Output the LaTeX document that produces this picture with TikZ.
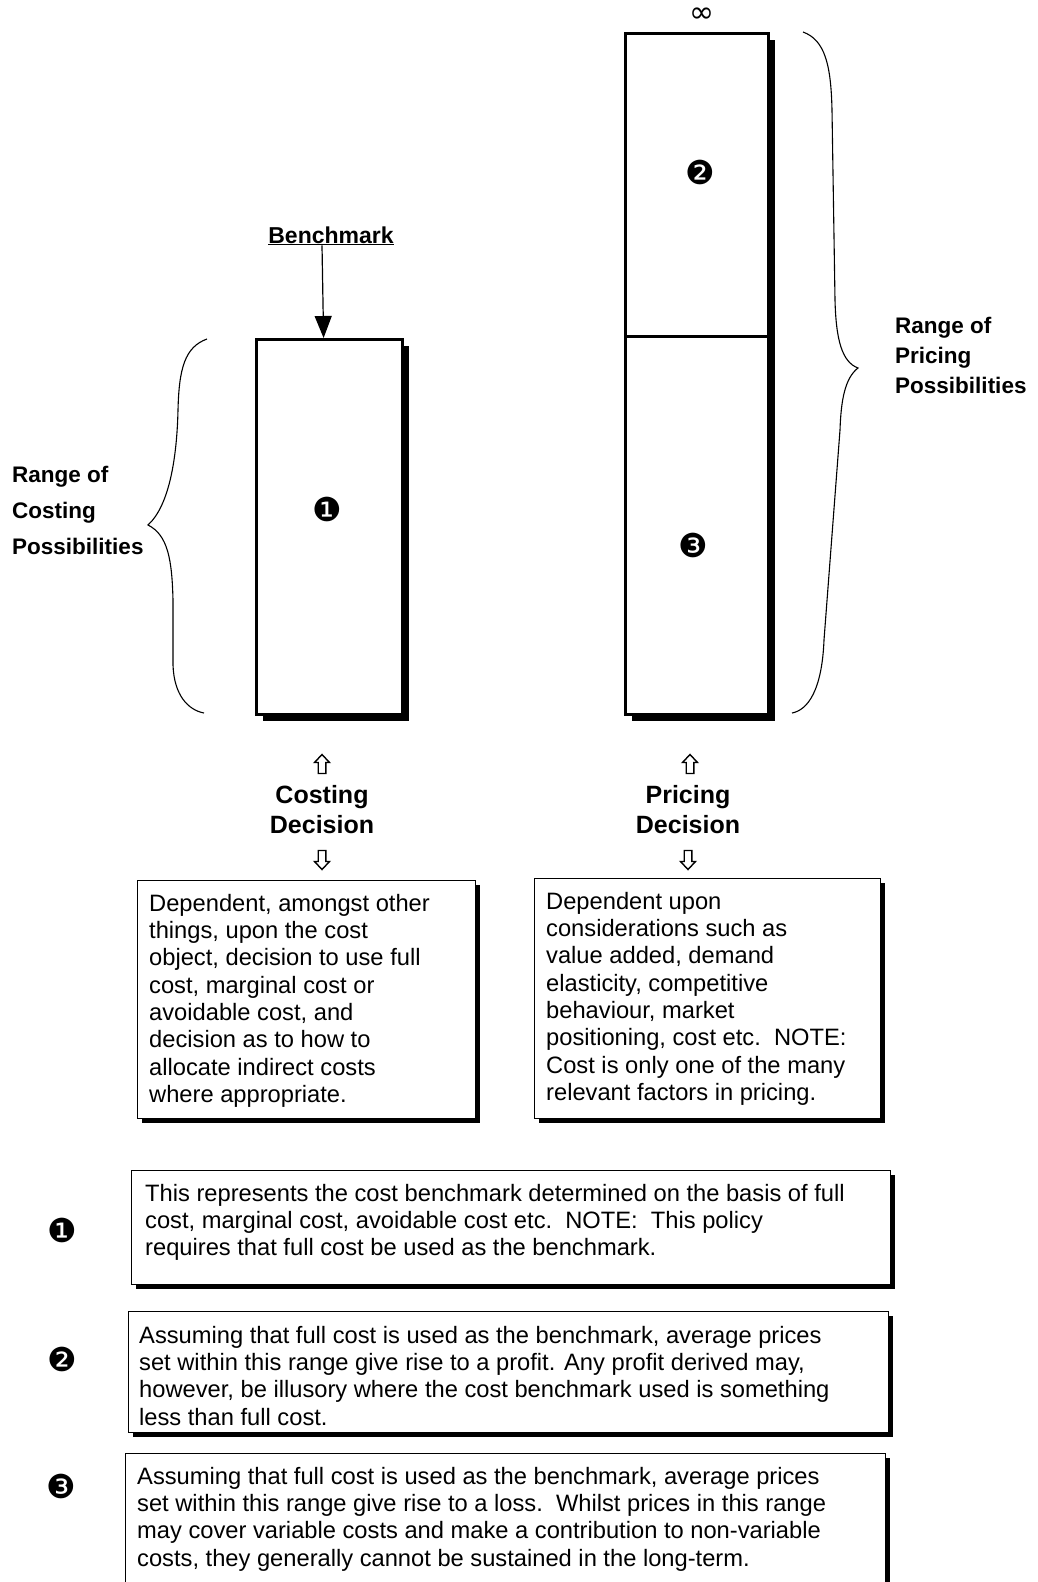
\documentclass[tikz,border=0pt]{standalone}
\usepackage{fontspec}
\setmainfont{Liberation Sans}
\newfontfamily\dejavu{DejaVu Sans}
\usetikzlibrary{shadows,arrows.meta,calc}
\tikzset{
  bar/.style={draw, line width=3.2pt, fill=white, inner sep=0pt,
    drop shadow={shadow xshift=6pt, shadow yshift=-6pt, fill=black, opacity=1}},
  tbox/.style={draw, line width=1.2pt, fill=white, inner sep=0pt, anchor=north west,
    drop shadow={shadow xshift=4pt, shadow yshift=-4pt, fill=black, opacity=1}},
  txt/.style={anchor=north west, inner sep=0pt, align=left,
    font=\fontsize{23.7}{27.3}\selectfont},
  rangelbl/.style={anchor=north west, inner sep=0pt, align=left},
  declbl/.style={anchor=north, inner sep=0pt, align=center,
    font=\bfseries\fontsize{25}{30}\selectfont},
  circnum/.style={inner sep=0pt, font=\dejavu\fontsize{33}{33}\selectfont},
  bracepath/.style={line width=1.1pt},
  uparr/.pic={\draw[line width=1.4pt, line join=miter]
     (-3.8,9.5) -- (-3.8,-1.5) -- (-7.5,-1.5) -- (0,-9.5) -- (7.5,-1.5) -- (3.8,-1.5) -- (3.8,9.5) -- cycle;},
  downarr/.pic={\draw[line width=1.4pt, line join=miter]
     (-3.8,-9.5) -- (-3.8,1.5) -- (-7.5,1.5) -- (0,9.5) -- (7.5,1.5) -- (3.8,1.5) -- (3.8,-9.5) -- cycle;}
}
\begin{document}
\begin{tikzpicture}[x=1pt,y=-1pt]
\useasboundingbox[fill=white] (0,0) rectangle (1037,1582);

% bars
\node[bar, anchor=north west, minimum width=146pt, minimum height=375pt] (cb) at (255,338) {};
\node[bar, anchor=north west, minimum width=143pt, minimum height=681pt] (pb) at (624,32) {};
\draw[line width=2.5pt] ($(pb.north west)!0.445!(pb.south west)$) -- ($(pb.north east)!0.445!(pb.south east)$);

\node[circnum] (n1) at (327,509) {❶};
\node[circnum] (n2) at (700,172) {❷};
\node[circnum] (n3) at (693,545) {❸};

\node[inner sep=0pt, font=\dejavu\fontsize{30}{30}\selectfont] (inf) at (702,15) {∞};

% benchmark
\node[anchor=base, inner sep=0pt, font=\bfseries\fontsize{23}{28}\selectfont] (bm) at (331,243) {\underline{Benchmark}};
\draw[line width=1.2pt, -{Triangle[length=22pt, width=17pt]}] ($(bm.south)+(-9,0)$) -- ($(cb.north)+(-6,0)$);

% braces
\draw[bracepath] (207,339) .. controls (185,347) and (179,368) .. (178,410)
  .. controls (177,455) and (170,505) .. (148,525)
  .. controls (168,535) and (172,560) .. (173,600)
  -- (173,665) .. controls (174,695) and (188,710) .. (204,713);
\draw[bracepath] (803,32) .. controls (825,40) and (831,65) .. (832,110)
  -- (835,300) .. controls (836,340) and (842,362) .. (858,368)
  .. controls (845,378) and (841,400) .. (840,430)
  -- (824,640) .. controls (822,690) and (808,710) .. (792,713);

\node[rangelbl, font=\bfseries\fontsize{22.5}{36}\selectfont] (rc) at (12,457) {\strut Range of\\Costing\\Possibilities};
\node[rangelbl, font=\bfseries\fontsize{22.5}{30}\selectfont] (rp) at (895,312) {\strut Range of\\Pricing\\Possibilities};

% decisions
\pic at (322,764) {uparr};
\node[declbl] (cd) at (322,782) {\strut Costing\\Decision};
\pic at (322,860) {downarr};
\pic at (690,764) {uparr};
\node[declbl] (pd) at (688,782) {\strut Pricing\\Decision};
\pic at (688,860) {downarr};

% description boxes
\node[tbox, minimum width=338pt, minimum height=238pt] (ba) at (137,880) {};
\node[txt] (ta) at (149,892) {\strut Dependent, amongst other\\things, upon the cost\\object, decision to use full\\cost, marginal cost or\\avoidable cost, and\\decision as to how to\\allocate indirect costs\\where appropriate.};
\node[tbox, minimum width=346pt, minimum height=240pt] (bb) at (534,878) {};
\node[txt] (tb) at (546,890) {\strut Dependent upon\\considerations such as\\value added, demand\\elasticity, competitive\\behaviour, market\\positioning, cost etc.\ \ NOTE:\\Cost is only one of the many\\relevant factors in pricing.};

\node[tbox, minimum width=759pt, minimum height=114pt] (b1) at (131,1170) {};
\node[txt] (t1) at (145,1182) {\strut This represents the cost benchmark determined on the basis of full\\cost, marginal cost, avoidable cost etc.\ \ NOTE:\ \ This policy\\requires that full cost be used as the benchmark.};
\node[tbox, minimum width=760pt, minimum height=121pt] (b2) at (128,1311) {};
\node[txt] (t2) at (139,1324) {\strut Assuming that full cost is used as the benchmark, average prices\\set within this range give rise to a profit. Any profit derived may,\\however, be illusory where the cost benchmark used is something\\less than full cost.};
\node[tbox, minimum width=760pt, minimum height=200pt] (b3) at (125,1453) {};
\node[txt] (t3) at (137,1465) {\strut Assuming that full cost is used as the benchmark, average prices\\set within this range give rise to a loss.\ \ Whilst prices in this range\\may cover variable costs and make a contribution to non-variable\\costs, they generally cannot be sustained in the long-term.};

\node[circnum] (m1) at (62,1230) {❶};
\node[circnum] (m2) at (62,1359) {❷};
\node[circnum] (m3) at (61,1486) {❸};
\end{tikzpicture}
\end{document}
